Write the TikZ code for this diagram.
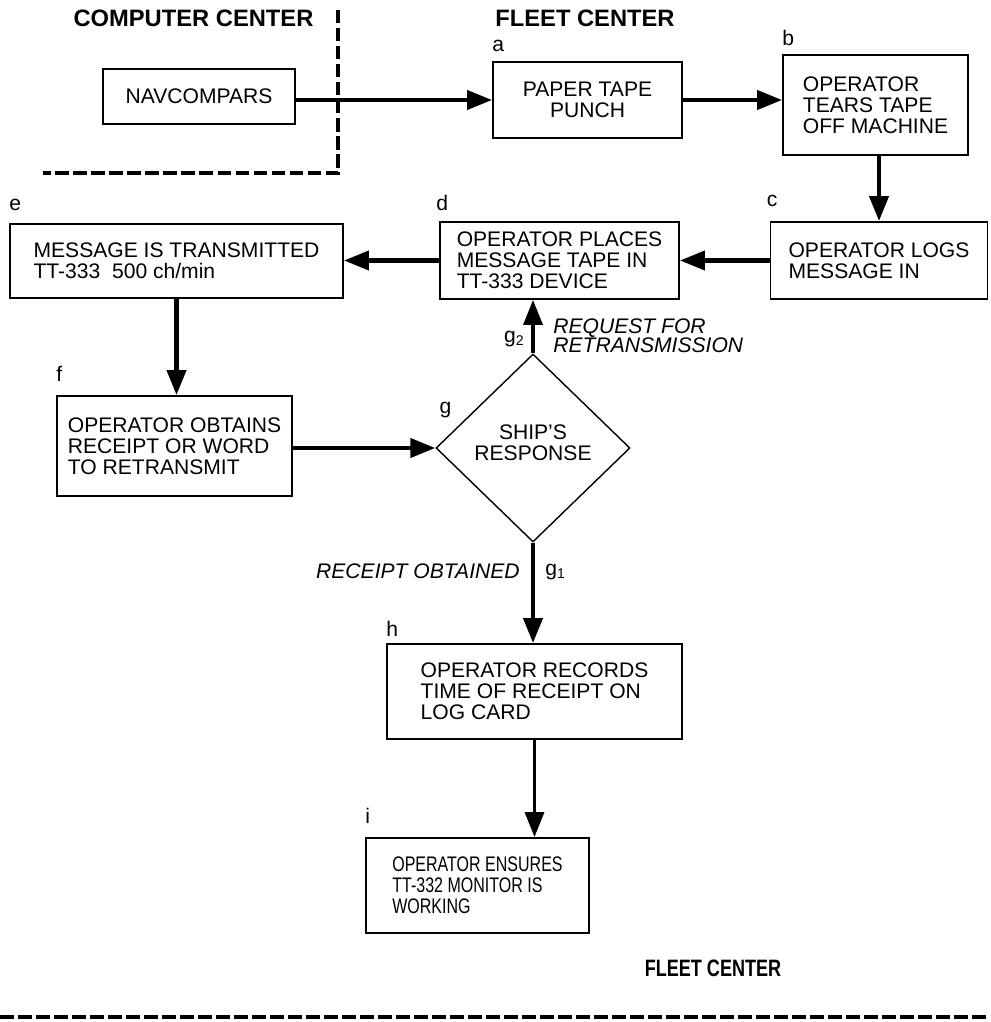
\documentclass[tikz,border=0pt]{standalone}
\usepackage{fontspec}
\setmainfont{Liberation Sans}
\newfontfamily\narrowfont[FakeStretch=0.76]{Liberation Sans}
\usetikzlibrary{arrows.meta,positioning,shapes.geometric}

\begin{document}
\begin{tikzpicture}[x=0.2mm, y=-0.2mm,
		box/.style={draw, line width=1.1pt, align=left, inner sep=0pt,
			font=\fontsize{12}{12}\selectfont},
		tag/.style={inner sep=0pt, font=\fontsize{12}{12}\selectfont},
		head/.style={inner sep=0pt, font=\fontsize{13.5}{13.5}\selectfont\bfseries},
		note/.style={align=left, inner sep=0pt, font=\fontsize{12}{11}\selectfont\itshape},
		flow/.style={->, line width=2.4pt},
		border/.style={line width=1.8pt, dash pattern=on 2.7mm off 0.9mm},
		>={Triangle[length=5mm, width=3.8mm]}]
	\useasboundingbox (0,0) rectangle (990,1022);
	% headings and the dashed borders
	\node[head] (cc) at (193.5,18) {COMPUTER CENTER};
	\node[head] (fc) at (585,18) {FLEET CENTER};
	\node[head, font=\fontsize{13.5}{13.5}\narrowfont\bfseries] (fcb) at (713,968) {FLEET CENTER};
	\coordinate (cctop) at (338,10);
	\coordinate (cccorner) at (338,173);
	\coordinate (ccend) at (43,173);
	\draw[border] (cctop) -- (cccorner) -- (ccend);
	\coordinate (bl) at (0,1017);
	\coordinate (br) at (990,1017);
	\draw[border] (bl) -- (br);
	% steps
	\node[box, align=center, minimum width=38.4mm, minimum height=11mm] (nav) at (199,96.5) {NAVCOMPARS};
	\node[box, align=center, minimum width=37.8mm, minimum height=15.2mm] (a) at (587.5,100) {PAPER TAPE\\PUNCH};
	\node[box, minimum width=37mm, minimum height=20mm] (b) at (875.5,105) {OPERATOR\\TEARS TAPE\\OFF MACHINE};
	\node[box, minimum width=43.4mm, minimum height=15.4mm] (c) at (879,260.5) {OPERATOR LOGS\\MESSAGE IN};
	\node[box, minimum width=47.8mm, minimum height=15.4mm] (d) at (559.5,260.5) {OPERATOR PLACES\\MESSAGE TAPE IN\\TT-333 DEVICE};
	\node[box, minimum width=66.6mm, minimum height=14.8mm] (e) at (176.5,261) {MESSAGE IS TRANSMITTED\\TT-333\ \ 500 ch/min};
	\node[box, minimum width=47mm, minimum height=20mm] (f) at (174.5,446) {OPERATOR OBTAINS\\RECEIPT OR WORD\\TO RETRANSMIT};
	\node[draw, diamond, line width=0.8pt, inner sep=0pt, align=center, minimum width=38.8mm, minimum height=37.6mm,
		font=\fontsize{12}{12}\selectfont] (g) at (533,448) {SHIP’S\\RESPONSE\\[-2mm]};
	\node[box, minimum width=59mm, minimum height=19mm] (h) at (534.5,691.5) {OPERATOR RECORDS\\TIME OF RECEIPT ON\\LOG CARD};
	\node[box, minimum width=44.6mm, minimum height=19mm, font=\fontsize{12}{12}\narrowfont] (i) at (477.5,885.5) {OPERATOR ENSURES\\TT-332 MONITOR IS\\WORKING};
	% step letters
	\foreach \n/\dy/\dx in {a/1.8/0, b/1.6/0, c/2.8/-0.6, d/2/-0.6, e/2.4/0, f/2.6/0, h/1.2/0, i/2.6/0}
		\node[tag, above right=\dy mm and \dx mm of \n.north west] (t\n) {\n};
	\node[tag, above right=6mm and 0.8mm of g.west] (tg) {g};
	% connectors
	\draw[flow] (nav.east |- a.west) -- (a.west);
	\draw[flow] (a.east) -- (a.east -| b.west);
	\draw[flow] (c.north |- b.south) -- (c.north);
	\draw[flow] (c.west) -- (d.east);
	\draw[flow] (d.west) -- (d.west -| e.east);
	\draw[flow] (e.south) -- (e.south |- f.north);
	\draw[flow] (f.east |- g.west) -- (g.west);
	\draw[flow, line width=2pt] (g.north) -- (g.north |- d.south);
	\draw[flow] (g.south) -- (g.south |- h.north);
	\draw[flow, line width=2pt] (h.south) -- (h.south |- i.north);
	% answers of the ship
	\node[tag, above left=1.2mm and 1.6mm of g.north] (g2) {g\textsubscript{2}};
	\node[note, above right=0mm and 4mm of g.north] (req) {REQUEST FOR\\RETRANSMISSION};
	\node[tag, below right=4.2mm and 2.4mm of g.south] (g1) {g\textsubscript{1}};
	\node[note, below left=4.2mm and 2.6mm of g.south] (rec) {RECEIPT OBTAINED};
\end{tikzpicture}
\end{document}
